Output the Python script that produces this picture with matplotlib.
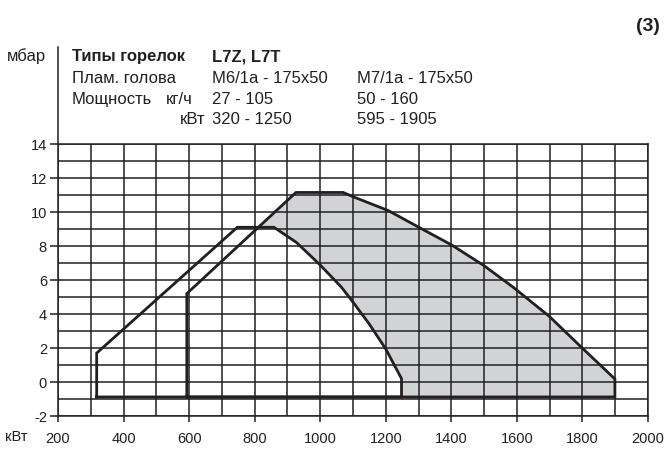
import numpy as np
import matplotlib.pyplot as plt

plt.rcParams['font.family'] = ['Liberation Sans', 'DejaVu Sans']
plt.rcParams['axes.unicode_minus'] = False

# поле работы горелки с головой M6/1a (кВт, мбар)
m6_kw = [318, 318, 747, 859, 928, 1000, 1065, 1100, 1150, 1200, 1248, 1248]
m6_mbar = [-0.88, 1.7, 9.1, 9.1, 8.2, 6.88, 5.57, 4.7, 3.4, 1.94, 0.2, -0.88]

# поле работы горелки с головой M7/1a
m7_kw = [593, 593, 926, 1070, 1100, 1208, 1301, 1401, 1500, 1589, 1699, 1797, 1899, 1899]
m7_mbar = [-0.88, 5.2, 11.15, 11.15, 10.9, 10.08, 9.1, 8.06, 6.84, 5.57, 3.86, 2.04, 0.18, -0.88]

x_ticks = np.arange(200, 2001, 200)
y_ticks = np.arange(-2, 15, 2)

line_c = '#231f20'
W, H = 664, 456

fig = plt.figure(figsize=(W / 100, H / 100), dpi=100)
ax = fig.add_axes([58 / W, 1 - 417 / H, 590 / W, 272 / H])

ax.fill(m7_kw, m7_mbar, color='#d2d3d5', lw=0, zorder=1)
ax.fill(m6_kw, m6_mbar, color='white', lw=0, zorder=1.5)

ax.set_xlim(200, 2000)
ax.set_ylim(-2, 14)
ax.set_xticks(x_ticks)
ax.set_yticks(y_ticks)
ax.set_xticks(np.arange(200, 2001, 100), minor=True)
ax.set_yticks(np.arange(-2, 15, 1), minor=True)
ax.grid(which='both', color=line_c, lw=1.1)
ax.set_axisbelow(False)
for gl in ax.get_xgridlines() + ax.get_ygridlines():
    gl.set_zorder(2)
ax.tick_params(which='minor', length=0)
ax.tick_params(axis='x', which='major', length=4, width=1.1, pad=6.5,
               labelsize=10.5, color=line_c, labelcolor=line_c)
ax.tick_params(axis='y', which='major', length=6, width=1.1, pad=2.0,
               labelsize=10.5, color=line_c, labelcolor=line_c)
for s in ax.spines.values():
    s.set_linewidth(1.1)
    s.set_color(line_c)
ax.spines['left'].set_visible(False)
ax.plot([0, 0], [0, 1 + 97 / 272], transform=ax.transAxes, color=line_c,
        lw=1.1, clip_on=False, zorder=3)

ax.plot(m6_kw + m6_kw[:1], m6_mbar + m6_mbar[:1], color=line_c, lw=2.0,
        zorder=4, solid_joinstyle='miter')
ax.plot(m7_kw + m7_kw[:1], m7_mbar + m7_mbar[:1], color=line_c, lw=2.0,
        zorder=4, solid_joinstyle='miter')


def txt(x, y, s, **kw):
    fig.text(x / W, 1 - y / H, s, va='baseline', color=line_c, **kw)


fs = 12
txt(7, 61, 'мбар', fontsize=fs)
txt(5, 441, 'кВт', fontsize=10.5)
txt(72, 61, 'Типы горелок', fontsize=fs, fontweight='bold')
txt(212, 61, 'L7Z, L7T', fontsize=fs, fontweight='bold')
txt(72, 83, 'Плам. голова', fontsize=fs)
txt(212, 83, 'M6/1a - 175x50', fontsize=fs)
txt(357, 83, 'M7/1a - 175x50', fontsize=fs)
txt(72, 104, 'Мощность', fontsize=fs)
txt(166, 104, 'кг/ч', fontsize=fs)
txt(212, 104, '27 - 105', fontsize=fs)
txt(357, 104, '50 - 160', fontsize=fs)
txt(205, 124, 'кВт', fontsize=fs, ha='right')
txt(212, 124, '320 - 1250', fontsize=fs)
txt(357, 124, '595 - 1905', fontsize=fs)
txt(660, 31, '(3)', fontsize=14, fontweight='bold', ha='right')

fig.savefig('out.png', dpi=100)
